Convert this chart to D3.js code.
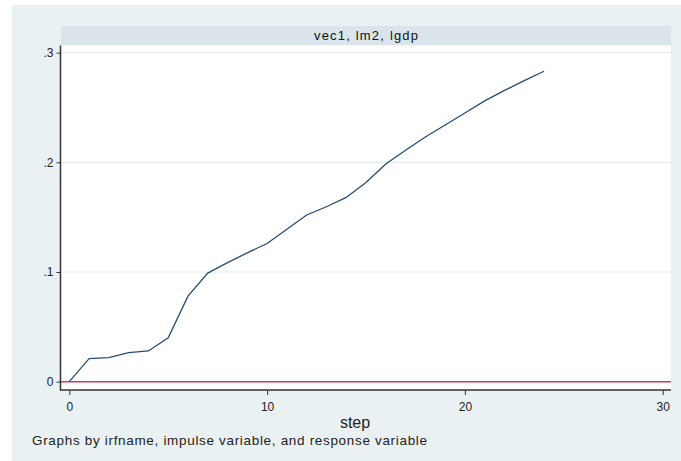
<!DOCTYPE html>
<html>
<head>
<meta charset="utf-8">
<script src="https://d3js.org/d3.v7.min.js"></script>
<style>
  body { margin: 0; background: #fff; }
  svg { display: block; font-family: "Liberation Sans", Arial, sans-serif; }
  .axis path, .axis line { stroke: #333; }
  .axis text { fill: #222; font-size: 12px; }
</style>
</head>
<body>
<div id="chart"></div>
<script>
// impulse response of lgdp to lm2, vec1
let steps = [0, 1, 2, 3, 4, 5, 6, 7, 8, 9, 10, 11, 12, 13, 14, 15, 16, 17, 18, 19, 20, 21, 22, 23, 24]
let irf = [0, 0.021, 0.022, 0.0265, 0.028, 0.040, 0.078, 0.099, 0.1085, 0.1175, 0.126, 0.139, 0.152, 0.1595, 0.168,
           0.1815, 0.1985, 0.211, 0.223, 0.234, 0.245, 0.256, 0.2655, 0.2745, 0.283]
let xTicks = [0, 10, 20, 30]
let yTicks = [0, 0.1, 0.2, 0.3]
let yTickLabels = ["0", ".1", ".2", ".3"]
let panelTitle = "vec1, lm2, lgdp"
let xTitle = "step"
let note = "Graphs by irfname, impulse variable, and response variable"

let width = 681
let height = 461
let plot = {left: 61, right: 671, top: 45.5, bottom: 389.5}

let svg = d3.select("#chart").append("svg")
  .attr("width", width)
  .attr("height", height)

// outer graph region
svg.append("rect")
  .attr("x", 12).attr("y", 5)
  .attr("width", width - 12).attr("height", height - 5)
  .attr("fill", "#eaf1f3")

// panel title strip
svg.append("rect")
  .attr("x", plot.left).attr("y", 26)
  .attr("width", plot.right - plot.left).attr("height", 19)
  .attr("fill", "#d9e5eb")
svg.append("text")
  .attr("x", (plot.left + plot.right) / 2)
  .attr("y", 40)
  .style("text-anchor", "middle")
  .style("font-size", "13px")
  .attr("textLength", 104)
  .attr("fill", "#111")
  .text(panelTitle)

// plot region
svg.append("rect")
  .attr("x", plot.left).attr("y", plot.top)
  .attr("width", plot.right - plot.left).attr("height", plot.bottom - plot.top)
  .attr("fill", "#fff")

let xScale = d3.scaleLinear().domain([0, 30]).range([69.3, 662.7])
let yScale = d3.scaleLinear().domain([0, 0.3]).range([381.7, 52.6])

// gridlines
svg.append("g")
  .selectAll("line")
  .data(yTicks.slice(1))
  .join("line")
  .attr("x1", plot.left).attr("x2", plot.right)
  .attr("y1", d => yScale(d)).attr("y2", d => yScale(d))
  .attr("stroke", "#e6eef1")
  .attr("stroke-width", 1.2)

// zero reference line
svg.append("line")
  .attr("x1", plot.left).attr("x2", plot.right)
  .attr("y1", yScale(0)).attr("y2", yScale(0))
  .attr("stroke", "#cc3d62")
  .attr("stroke-width", 1.6)

// irf line
let path = d3.line()
  .x((d, i) => xScale(steps[i]))
  .y(d => yScale(d))

svg.append("path")
  .datum(irf)
  .attr("d", path)
  .attr("fill", "none")
  .attr("stroke", "#244d75")
  .attr("stroke-width", 1.3)

// axes
let yAxis = svg.append("g")
  .attr("class", "axis")
  .attr("transform", "translate(" + (plot.left - 0.5) + ",0)")
  .call(d3.axisLeft(yScale).tickValues(yTicks).tickSize(4).tickPadding(3)
    .tickFormat((d, i) => yTickLabels[i]))
yAxis.select(".domain")
  .attr("d", "M0," + plot.top + "V" + (plot.bottom + 1))
  .attr("stroke-width", 1.5)

let xAxis = svg.append("g")
  .attr("class", "axis")
  .attr("transform", "translate(0," + (plot.bottom + 0.5) + ")")
  .call(d3.axisBottom(xScale).tickValues(xTicks).tickSize(5).tickPadding(7))
xAxis.select(".domain")
  .attr("d", "M" + (plot.left - 1) + ",0H" + plot.right)
  .attr("stroke-width", 1.5)

svg.append("text")
  .attr("x", 355)
  .attr("y", 428)
  .style("text-anchor", "middle")
  .style("font-size", "16px")
  .attr("fill", "#222")
  .text(xTitle)

svg.append("text")
  .attr("x", 32)
  .attr("y", 445)
  .style("font-size", "13.5px")
  .attr("textLength", 395)
  .attr("fill", "#222")
  .text(note)
</script>
</body>
</html>
